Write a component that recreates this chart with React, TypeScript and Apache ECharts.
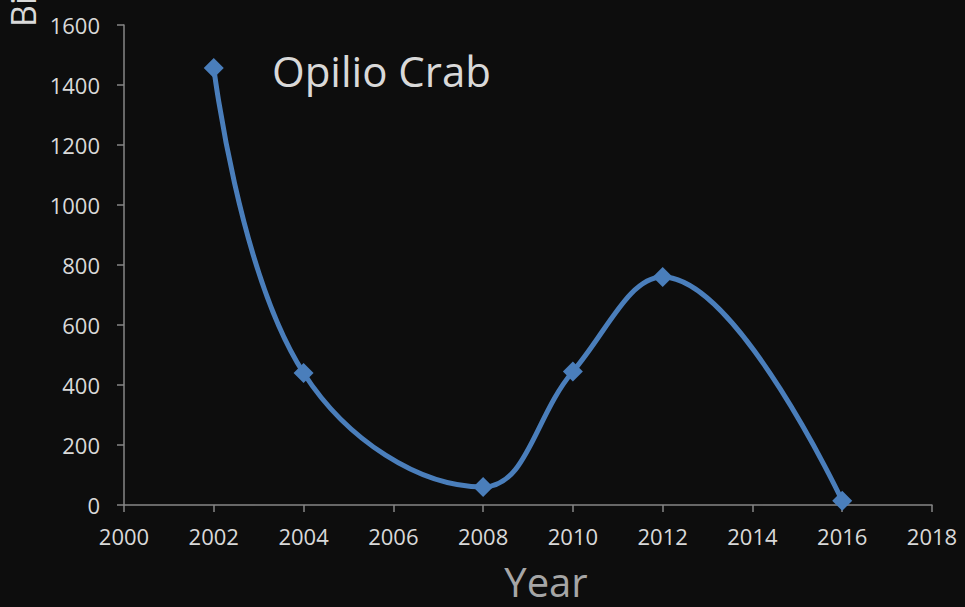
import React, { useEffect, useRef } from "react";
import * as echarts from "echarts";

const years = [2002, 2004, 2008, 2010, 2012, 2016];
const abundance = [1457, 440, 60, 445, 760, 14];
const chartTitle = "Opilio Crab";
const xAxisName = "Year";
const yAxisName = "Billions of crabs";

export default function App() {
  const ref = useRef<HTMLDivElement>(null);
  useEffect(() => {
    if (!ref.current) return;
    const chart = echarts.init(ref.current, null, { renderer: "svg" });
    const font = "'Open Sans', 'DejaVu Sans', sans-serif";
    chart.setOption({
      animation: false,
      backgroundColor: "#0d0d0d",
      grid: {
        left: 124,
        right: 33,
        top: 25,
        bottom: 102,
        containLabel: false,
        outerBoundsMode: "none",
      },
      xAxis: {
        type: "value",
        min: 2000,
        max: 2018,
        interval: 2,
        axisLine: { show: true, onZero: false, lineStyle: { color: "#868686", width: 1.5 } },
        axisTick: { show: true, length: 7, lineStyle: { color: "#868686", width: 1.5 } },
        axisLabel: {
          color: "#d9d9d9",
          fontSize: 22,
          fontFamily: font,
          margin: 20,
          formatter: (v: number) => String(v),
        },
        splitLine: { show: false },
      },
      yAxis: {
        type: "value",
        min: 0,
        max: 1600,
        interval: 200,
        axisLine: { show: true, lineStyle: { color: "#868686", width: 1.5 } },
        axisTick: { show: true, length: 7, lineStyle: { color: "#868686", width: 1.5 } },
        axisLabel: {
          color: "#d9d9d9",
          fontSize: 22,
          fontFamily: font,
          margin: 24,
          formatter: (v: number) => String(v),
        },
        splitLine: { show: false },
      },
      graphic: [
        {
          type: "text",
          x: 272,
          y: 70,
          style: {
            text: chartTitle,
            fill: "#d9d9d9",
            fontSize: 42,
            fontFamily: font,
            align: "left",
            verticalAlign: "middle",
          },
        },
        {
          type: "text",
          x: 546,
          y: 581,
          style: {
            text: xAxisName,
            fill: "#a6a6a6",
            fontSize: 40,
            fontFamily: font,
            align: "center",
            verticalAlign: "middle",
          },
        },
        {
          type: "text",
          x: 40,
          y: 27,
          rotation: Math.PI / 2,
          style: {
            text: yAxisName,
            fill: "#d9d9d9",
            fontSize: 34,
            fontFamily: font,
            align: "left",
            verticalAlign: "bottom",
          },
        },
      ],
      series: [
        {
          type: "line",
          data: years.map((y, i) => [y, abundance[i]]),
          smooth: 0.4,
          symbol: "diamond",
          symbolSize: 20,
          lineStyle: { color: "#4a7ebb", width: 5 },
          itemStyle: { color: "#4a7ebb" },
        },
      ],
    });
    return () => chart.dispose();
  }, []);
  return (
    <div
      ref={ref}
      style={{ position: "fixed", left: 0, top: 0, width: 965, height: 607 }}
    />
  );
}
